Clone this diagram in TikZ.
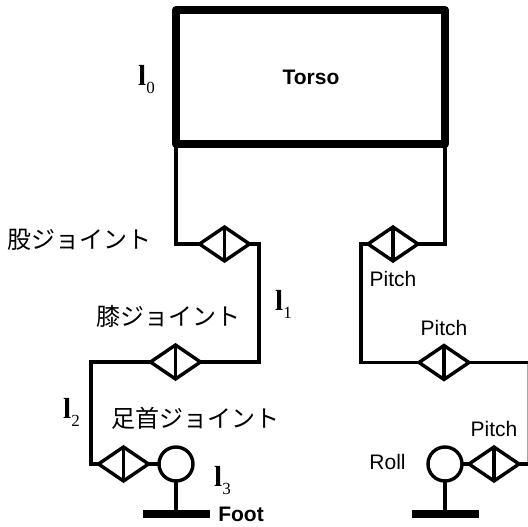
\documentclass[tikz,border=0pt]{standalone}
\usepackage{fontspec}
\setmainfont{Liberation Sans}
\newfontfamily\serifl{Liberation Serif}
\newfontfamily\cjk{Noto Sans CJK JP}
\usetikzlibrary{shapes.geometric}
\newcommand{\linkl}[1]{{\serifl\bfseries\fontsize{29}{29}\selectfont l\raisebox{-8pt}{\fontsize{17}{17}\mdseries\selectfont #1}}}
\tikzset{
  x=1pt,y=-1pt,
  wire/.style={line width=3.4pt,line join=miter,line cap=butt},
  joint/.style={shape=diamond,draw,line width=3.4pt,minimum width=50pt,minimum height=34pt,inner sep=0pt,outer sep=0pt,aspect=1.47},
  roll/.style={shape=circle,draw,line width=3.4pt,minimum size=34pt,inner sep=0pt,outer sep=0pt},
  bar/.style={shape=rectangle,fill=black,minimum width=67pt,minimum height=8pt,inner sep=0pt,outer sep=0pt},
  txt/.style={font=\fontsize{21}{21}\selectfont,inner sep=0pt},
  txtb/.style={font=\fontsize{21}{21}\selectfont\bfseries,inner sep=0pt},
  jp/.style={font=\cjk\fontsize{24}{24}\selectfont,inner sep=0pt},
  lbl/.style={inner sep=0pt,anchor=west},
}
\begin{document}
\begin{tikzpicture}
\useasboundingbox (0,0) rectangle (528,527);
\fill[white] (0,0) rectangle (528,527);
% torso
\node[draw,line width=8pt,line join=round,minimum width=269pt,minimum height=134pt,inner sep=0pt,outer sep=0pt] (torso) at (310.5,77) {};
\node[txtb] (torsotext) at (311,77) {Torso};
% joints
\node[joint] (hipL) at (224.5,244) {};
\node[joint] (kneeL) at (175.5,362) {};
\node[joint] (ankleL) at (123.5,464) {};
\node[roll] (rollL) at (176,464) {};
\node[bar] (footL) at (176,514) {};
\node[joint] (hipR) at (393,244) {};
\node[joint] (kneeR) at (444,362.5) {};
\node[joint] (ankleR) at (494,464) {};
\node[roll] (rollR) at (445,464) {};
\node[bar] (footR) at (445,514) {};
% bars inside the joints
\foreach \j in {hipL,kneeL,ankleL,hipR,kneeR,ankleR}{\draw[wire] (\j.north) -- (\j.south);}
% free corners
\coordinate (edgeT) at (528,362.5);
\coordinate (edgeB) at (528,464);
% left leg
\draw[wire] (torso.south west) |- (hipL.west);
\draw[wire] (hipL.east) -| (259,300) |- (kneeL.east);
\draw[wire] (kneeL.west) -| (91,420) |- (ankleL.west);
\draw[wire] (ankleL.east) -- (rollL.west);
\draw[wire] (rollL.south) -- (footL.north);
% right leg
\draw[wire] (torso.south east) |- (hipR.east);
\draw[wire] (hipR.west) -| (361,300) |- (kneeR.west);
\draw[wire] (kneeR.east) -- (edgeT);
\draw[line width=1pt,black!35] (527.5,364) -- (527.5,462);
\draw[wire] (ankleR.east) -- (edgeB);
\draw[wire] (ankleR.west) -- (rollR.east);
\draw[wire] (rollR.south) -- (footR.north);
% labels
\node[jp] (jpHip) at (79.5,240) {股ジョイント};
\node[jp] (jpKnee) at (168.5,316) {膝ジョイント};
\node[jp] (jpAnkle) at (195,418) {足首ジョイント};
\node[txt] (p1) at (393,279) {Pitch};
\node[txt] (p2) at (444,328) {Pitch};
\node[txt] (p3) at (494,429) {Pitch};
\node[txt] (r1) at (387.5,462) {Roll};
\node[txtb] (foot) at (241,514) {Foot};
\node[lbl] (l0) at (138,80) {\linkl{0}};
\node[lbl] (l1) at (275,304) {\linkl{1}};
\node[lbl] (l2) at (63,412) {\linkl{2}};
\node[lbl] (l3) at (214,481) {\linkl{3}};
\end{tikzpicture}
\end{document}
